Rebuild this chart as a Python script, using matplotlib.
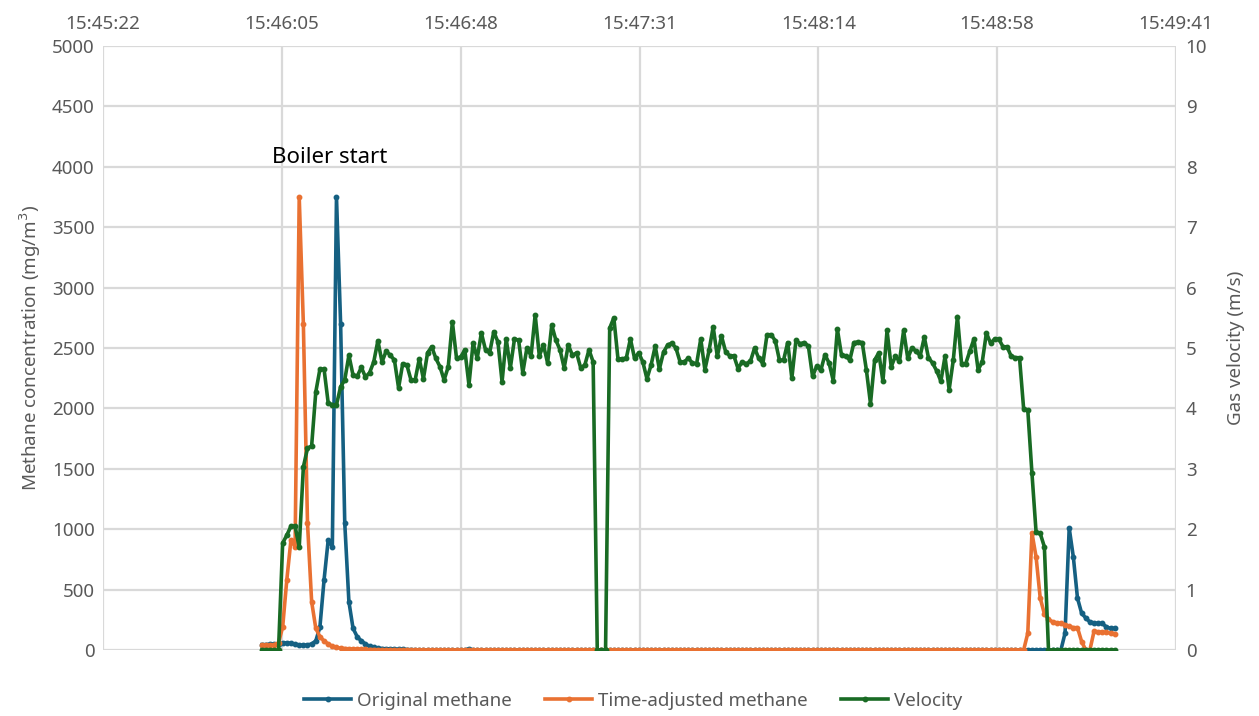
import numpy as np
import matplotlib
matplotlib.use("Agg")
import matplotlib.pyplot as plt
from matplotlib.lines import Line2D

# ---------------- data ----------------
start_time_s = 15 * 3600 + 46 * 60 + 0   # first sample 15:46:00, 1 s sampling
n_samples = 207

original_methane = (
    [45, 45, 48, 48, 50]
    + [55, 60, 55, 48, 42, 38, 42, 50, 75]
    + [190, 580, 910, 855, 3750, 2700, 1050, 400, 180, 110, 75, 50, 30, 22, 15, 12,
       10, 8, 8, 6, 5, 4, 3, 2]
    + [0] * 12 + [10] + [0] * 143
    + [140, 1010, 770, 430, 305, 265, 232, 224, 220, 220, 190, 180, 180]
)

adjusted_methane = (
    [40, 38, 40, 45, 60]
    + [190, 580, 910, 855, 3750, 2700, 1050, 400, 180, 110, 75, 50, 30, 22, 15, 12,
       10, 8, 8, 6, 5, 4, 3, 2]
    + [0] * 156
    + [140, 970, 770, 430, 300, 255, 232, 225, 220, 210, 195, 185, 185, 70, 0, 0,
       155, 150, 148, 145, 140, 135]
)

velocity = [
    0, 0, 0, 0, 0,
    1.77, 1.9, 2.05, 2.05, 1.7, 3.03, 3.34, 3.38, 4.27, 4.65,
    4.65, 4.09, 4.06, 4.06, 4.36, 4.47, 4.88, 4.55, 4.53, 4.68,
    4.52, 4.59, 4.77, 5.12, 4.77, 4.95, 4.88, 4.8, 4.34, 4.74,
    4.72, 4.47, 4.47, 4.82, 4.49, 4.92, 5.02, 4.83, 4.69, 4.47,
    4.69, 5.43, 4.83, 4.85, 4.97, 4.39, 5.08, 4.83, 5.25, 4.97,
    4.92, 5.27, 5.1, 4.44, 5.15, 4.67, 5.15, 5.13, 4.59, 5.0,
    4.87, 5.55, 4.87, 5.05, 4.75, 5.38, 5.13, 4.97, 4.67, 5.05,
    4.88, 4.92, 4.67, 4.72, 4.97, 4.77, 0, 0, 0, 5.33,
    5.5, 4.82, 4.82, 4.83, 5.15, 4.83, 4.92, 4.77, 4.49, 4.72,
    5.03, 4.65, 4.93, 5.05, 5.08, 5.0, 4.77, 4.77, 4.83, 4.75,
    4.74, 5.15, 4.64, 4.96, 5.35, 4.86, 5.2, 4.94, 4.87, 4.87,
    4.66, 4.77, 4.74, 4.78, 5.0, 4.83, 4.74, 5.22, 5.22, 5.12,
    4.8, 4.8, 5.09, 4.5, 5.13, 5.07, 5.09, 5.03, 4.53, 4.7,
    4.63, 4.89, 4.75, 4.46, 5.31, 4.88, 4.87, 4.8, 5.09, 5.1,
    5.09, 4.64, 4.08, 4.8, 4.92, 4.45, 5.29, 4.69, 4.86, 4.78,
    5.29, 4.83, 5.0, 4.95, 4.87, 5.18, 4.84, 4.75, 4.62, 4.45,
    4.86, 4.31, 4.8, 5.52, 4.74, 4.74, 4.95, 5.15, 4.64, 4.77,
    5.25, 5.08, 5.15, 5.15, 5.02, 5.02, 4.86, 4.84, 4.84, 3.99,
    3.97, 2.93, 1.95, 1.93, 1.71,
] + [0] * 17

x_tick_labels = ["15:45:22", "15:46:05", "15:46:48", "15:47:31",
                 "15:48:14", "15:48:58", "15:49:41"]
x_tick_seconds = [56721.6, 56764.8, 56808.0, 56851.2, 56894.4, 56937.6, 56980.8]
left_ticks = list(range(0, 5001, 500))
right_ticks = list(range(0, 11, 1))

series_names = ["Original methane", "Time-adjusted methane", "Velocity"]
annotation_text = "Boiler start"

# ---------------- plot ----------------
plt.rcParams['font.family'] = ['Noto Sans', 'DejaVu Sans']

BLUE = "#156082"
ORANGE = "#E97132"
GREEN = "#196B24"
GRID = "#D9D9D9"
TXT = "#595959"

t = start_time_s + np.arange(n_samples)

fig = plt.figure(figsize=(12.59, 7.16), dpi=100)
ax = fig.add_axes([103 / 1259, 1 - 650 / 716, (1176 - 103) / 1259, (650 - 46) / 716])
ax2 = ax.twinx()

lw = 2.6
ms = 3.2
ax.plot(t, original_methane, color=BLUE, lw=lw, marker='o', ms=ms, zorder=3)
ax.plot(t, adjusted_methane, color=ORANGE, lw=lw, marker='o', ms=ms, zorder=4)
ax2.plot(t, velocity, color=GREEN, lw=lw, marker='o', ms=ms, zorder=5)

ax.set_xlim(x_tick_seconds[0], x_tick_seconds[-1])
ax.set_ylim(0, 5000)
ax2.set_ylim(0, 10)

ax.set_xticks(x_tick_seconds)
ax.set_xticklabels(x_tick_labels)
ax.xaxis.tick_top()
ax.set_yticks(left_ticks)
ax2.set_yticks(right_ticks)

ax.grid(True, color=GRID, lw=1.6, zorder=0)
ax.set_axisbelow(True)
for a in (ax, ax2):
    for s in a.spines.values():
        s.set_visible(False)
    a.tick_params(length=0, labelsize=13.5, labelcolor=TXT)
ax.tick_params(axis='x', pad=9)
ax.tick_params(axis='y', pad=6)
ax2.tick_params(axis='y', pad=7)

ax.set_ylabel("Methane concentration (mg/m$^3$)", fontsize=13.5, color=TXT, labelpad=6)
ax2.set_ylabel("Gas velocity (m/s)", fontsize=13.5, color=TXT, labelpad=14)

ax.text(56721.6 + 40.8, 4080, annotation_text, fontsize=16, color="#000000",
        ha='left', va='center', zorder=6)

handles = [Line2D([0], [0], color=c, lw=lw, marker='o', ms=ms)
           for c in (BLUE, ORANGE, GREEN)]
leg = fig.legend(handles, series_names, loc='center', ncol=3, frameon=False,
                 bbox_to_anchor=(0.503, 1 - 701 / 716), fontsize=13.5,
                 handlelength=2.5, handletextpad=0.3, columnspacing=1.8)
for txt in leg.get_texts():
    txt.set_color(TXT)

fig.savefig("out.png", dpi=100)
